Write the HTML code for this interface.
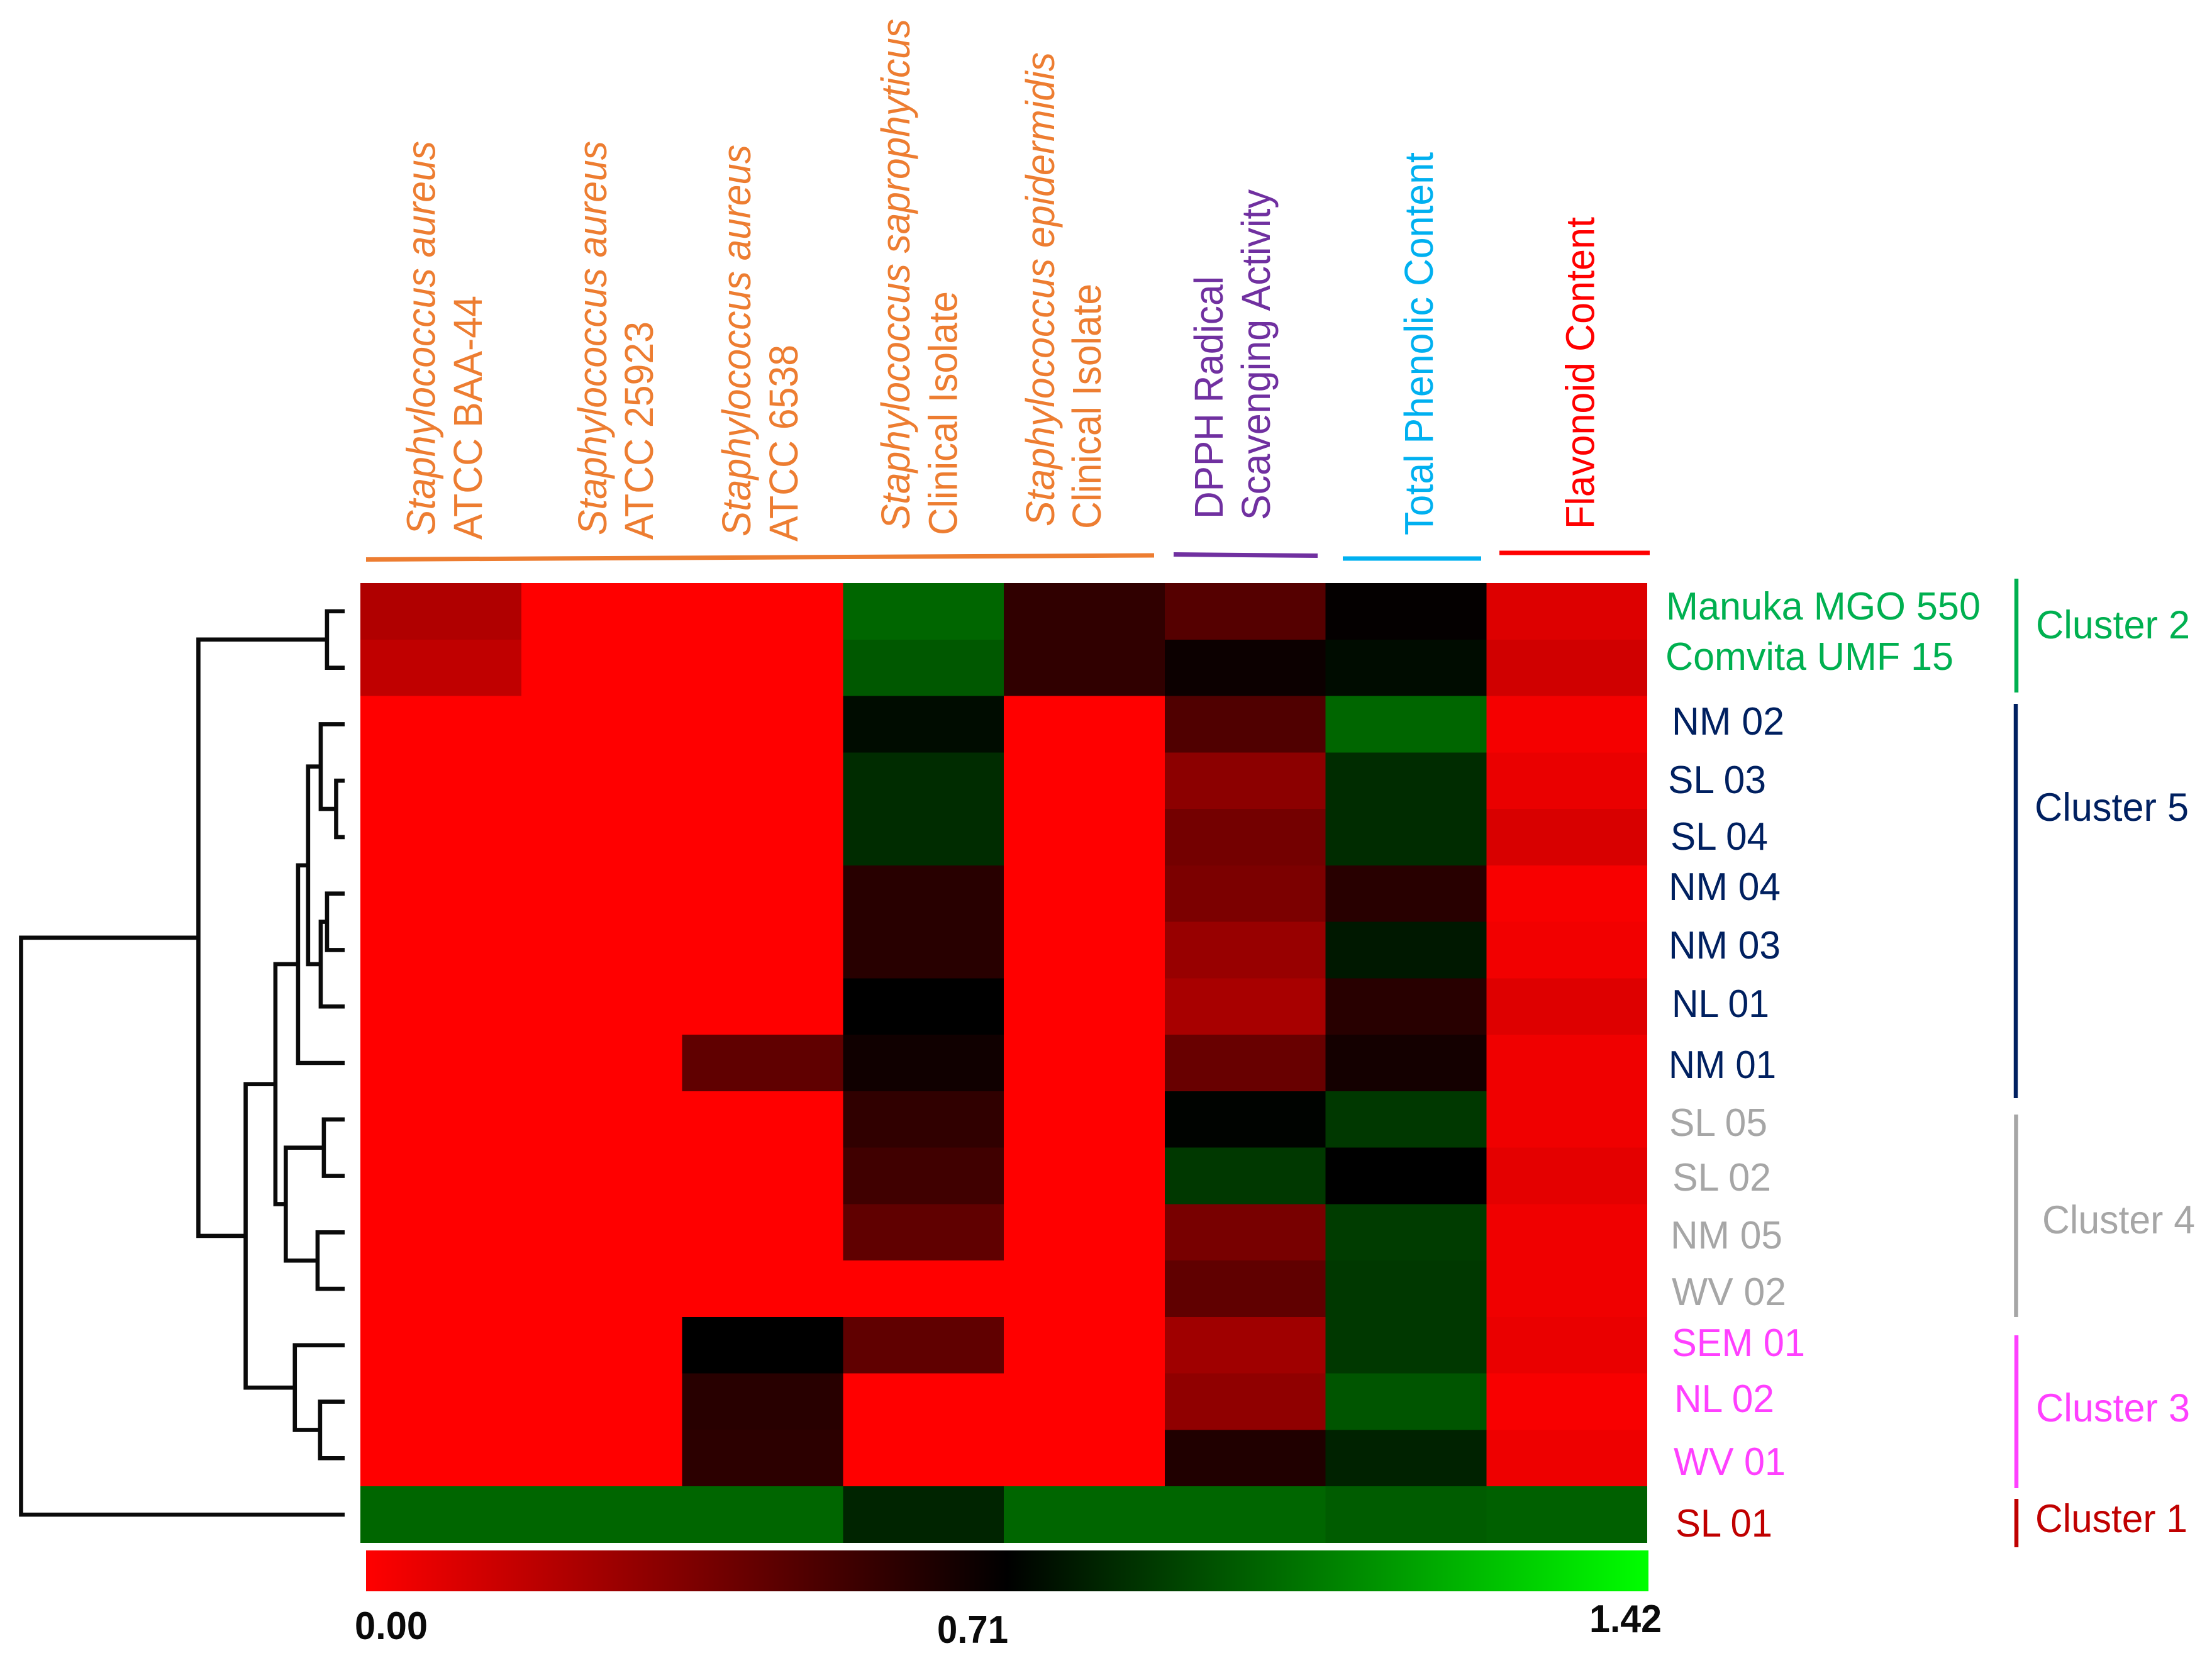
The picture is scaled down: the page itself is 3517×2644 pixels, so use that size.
<!DOCTYPE html>
<html lang="en">
<head>
<meta charset="utf-8">
<title>Honey clustering heatmap</title>
<style>
html,body{margin:0;padding:0;background:#fff;}
svg{display:block;}
text{font-family:"Liberation Sans",sans-serif;}
</style>
</head>
<body>
<svg id="chart" xmlns="http://www.w3.org/2000/svg" width="3517" height="2644" viewBox="0 0 3517 2644">
<rect x="0" y="0" width="3517" height="2644" fill="#fff"/>
<defs><linearGradient id="scaleGradient" x1="0" x2="1" y1="0" y2="0"></linearGradient></defs>
<g id="dendrogram" fill="none" stroke="#0a0a0a" stroke-width="6.6" stroke-linejoin="miter"></g>
<g id="heatmap" shape-rendering="crispEdges"></g>
<rect id="colorbar" x="582" y="2465" width="2039" height="65" fill="url(#scaleGradient)"/>

<g font-weight="bold" fill="#0a0a0a" font-size="62">
<text x="564" y="2606" textLength="116" lengthAdjust="spacingAndGlyphs">0.00</text>
<text x="1490" y="2612" textLength="113" lengthAdjust="spacingAndGlyphs">0.71</text>
<text x="2527" y="2595" textLength="115" lengthAdjust="spacingAndGlyphs">1.42</text>
</g>

<g font-size="64" fill="#ed7d31">
<text transform="translate(691.5,851) rotate(-90)" font-style="italic" textLength="627" lengthAdjust="spacingAndGlyphs">Staphylococcus aureus</text>
<text transform="translate(766,858) rotate(-90)" textLength="388" lengthAdjust="spacingAndGlyphs">ATCC BAA-44</text>
<text transform="translate(964,851) rotate(-90)" font-style="italic" textLength="627" lengthAdjust="spacingAndGlyphs">Staphylococcus aureus</text>
<text transform="translate(1038,858) rotate(-90)" textLength="347" lengthAdjust="spacingAndGlyphs">ATCC 25923</text>
<text transform="translate(1193,853) rotate(-90)" font-style="italic" textLength="623" lengthAdjust="spacingAndGlyphs">Staphylococcus aureus</text>
<text transform="translate(1268,861) rotate(-90)" textLength="313" lengthAdjust="spacingAndGlyphs">ATCC 6538</text>
<text transform="translate(1446,842) rotate(-90)" font-style="italic" textLength="812" lengthAdjust="spacingAndGlyphs">Staphylococcus saprophyticus</text>
<text transform="translate(1521.5,851) rotate(-90)" textLength="388" lengthAdjust="spacingAndGlyphs">Clinical Isolate</text>
<text transform="translate(1676,837) rotate(-90)" font-style="italic" textLength="754" lengthAdjust="spacingAndGlyphs">Staphylococcus epidermidis</text>
<text transform="translate(1750,841) rotate(-90)" textLength="390" lengthAdjust="spacingAndGlyphs">Clinical Isolate</text>
</g>
<g font-size="64" fill="#7030a0">
<text transform="translate(1944,825) rotate(-90)" textLength="386" lengthAdjust="spacingAndGlyphs">DPPH Radical</text>
<text transform="translate(2019,827) rotate(-90)" textLength="526" lengthAdjust="spacingAndGlyphs">Scavenging Activity</text>
</g>
<text transform="translate(2278,851) rotate(-90)" font-size="64" fill="#00b0f0" textLength="609" lengthAdjust="spacingAndGlyphs">Total Phenolic Content</text>
<text transform="translate(2534.5,841) rotate(-90)" font-size="64" fill="#ff0000" textLength="496" lengthAdjust="spacingAndGlyphs">Flavonoid Content</text>

<g stroke-width="7" fill="none">
<line x1="582" y1="889.5" x2="1835" y2="883" stroke="#ed7d31"/>
<line x1="1866" y1="881.5" x2="2095" y2="883.5" stroke="#7030a0"/>
<line x1="2135" y1="888" x2="2355" y2="888" stroke="#00b0f0"/>
<line x1="2384" y1="879" x2="2623" y2="879" stroke="#ff0000"/>
</g>

<g font-size="62">
<g fill="#00b050">
<text x="2649" y="985" textLength="500" lengthAdjust="spacingAndGlyphs">Manuka MGO 550</text>
<text x="2648" y="1065" textLength="458" lengthAdjust="spacingAndGlyphs">Comvita UMF 15</text>
</g>
<g fill="#002060">
<text x="2658" y="1168" textLength="179" lengthAdjust="spacingAndGlyphs">NM 02</text>
<text x="2652" y="1261" textLength="156" lengthAdjust="spacingAndGlyphs">SL 03</text>
<text x="2656" y="1351" textLength="155" lengthAdjust="spacingAndGlyphs">SL 04</text>
<text x="2653" y="1431" textLength="178" lengthAdjust="spacingAndGlyphs">NM 04</text>
<text x="2653" y="1524" textLength="178" lengthAdjust="spacingAndGlyphs">NM 03</text>
<text x="2658" y="1617" textLength="155" lengthAdjust="spacingAndGlyphs">NL 01</text>
<text x="2653" y="1714" textLength="171" lengthAdjust="spacingAndGlyphs">NM 01</text>
</g>
<g fill="#a6a6a6">
<text x="2654" y="1806" textLength="156" lengthAdjust="spacingAndGlyphs">SL 05</text>
<text x="2659" y="1893" textLength="157" lengthAdjust="spacingAndGlyphs">SL 02</text>
<text x="2656" y="1985" textLength="178" lengthAdjust="spacingAndGlyphs">NM 05</text>
<text x="2658" y="2075" textLength="182" lengthAdjust="spacingAndGlyphs">WV 02</text>
</g>
<g fill="#ff40ff">
<text x="2658" y="2156" textLength="212" lengthAdjust="spacingAndGlyphs">SEM 01</text>
<text x="2662" y="2245" textLength="159" lengthAdjust="spacingAndGlyphs">NL 02</text>
<text x="2661" y="2345" textLength="178" lengthAdjust="spacingAndGlyphs">WV 01</text>
</g>
<text x="2664" y="2443" fill="#c00000" textLength="154" lengthAdjust="spacingAndGlyphs">SL 01</text>
</g>

<g stroke-width="6.5" fill="none">
<line x1="3206" y1="920" x2="3206" y2="1101" stroke="#00b050"/>
<line x1="3205" y1="1119" x2="3205" y2="1746" stroke="#002060"/>
<line x1="3205.5" y1="1772" x2="3205.5" y2="2094" stroke="#a6a6a6"/>
<line x1="3206" y1="2123" x2="3206" y2="2366" stroke="#ff40ff"/>
<line x1="3206" y1="2383" x2="3206" y2="2460" stroke="#c00000"/>
</g>
<g font-size="63">
<text x="3237" y="1015" fill="#00b050" textLength="245" lengthAdjust="spacingAndGlyphs">Cluster 2</text>
<text x="3235" y="1305" fill="#002060" textLength="245" lengthAdjust="spacingAndGlyphs">Cluster 5</text>
<text x="3247" y="1961" fill="#a6a6a6" textLength="243" lengthAdjust="spacingAndGlyphs">Cluster 4</text>
<text x="3237" y="2260" fill="#ff40ff" textLength="245" lengthAdjust="spacingAndGlyphs">Cluster 3</text>
<text x="3236" y="2436" fill="#c00000" textLength="242" lengthAdjust="spacingAndGlyphs">Cluster 1</text>
</g>
</svg>
<script>
const rowNames = ["Manuka MGO 550","Comvita UMF 15","NM 02","SL 03","SL 04","NM 04","NM 03","NL 01","NM 01","SL 05","SL 02","NM 05","WV 02","SEM 01","NL 02","WV 01","SL 01"];
const columnNames = ["S. aureus BAA-44","S. aureus 25923","S. aureus 6538","S. saprophyticus","S. epidermidis","DPPH","Total Phenolic","Flavonoid"];
const scaleMin = 0;
const scaleMid = 0.71;
const scaleMax = 1.42;
const heatValues = [
  [0.220,0,0,0.994,0.576,0.473,0.700,0.095],
  [0.175,0,0,0.955,0.576,0.677,0.743,0.131],
  [0,0,0,0.743,0,0.487,0.994,0.028],
  [0,0,0,0.832,0,0.320,0.832,0.058],
  [0,0,0,0.832,0,0.387,0.832,0.109],
  [0,0,0,0.599,0,0.365,0.599,0.019],
  [0,0,0,0.599,0,0.287,0.777,0.036],
  [0,0,0,0.710,0,0.242,0.599,0.092],
  [0,0,0.443,0.665,0,0.420,0.654,0.042],
  [0,0,0,0.576,0,0.718,0.866,0.042],
  [0,0,0,0.532,0,0.866,0.710,0.075],
  [0,0,0,0.443,0,0.376,0.877,0.042],
  [0,0,0,0,0,0.443,0.866,0.042],
  [0,0,0.710,0.443,0,0.265,0.866,0.058],
  [0,0,0.599,0,0,0.309,0.947,0.019],
  [0,0,0.588,0,0,0.621,0.805,0.047],
  [0.994,0.994,0.994,0.810,0.994,0.994,0.966,0.977]
];
/* Each merge: [child A, child B, linkage distance]. Ids 0-16 are rows; ids 17+ refer to earlier merges. */
const mergeChildrenA = [0,3,2,5,20,19,22,9,11,24,23,14,13,27,17,31];
const mergeChildrenB = [1,4,18,6,7,21,8,10,12,25,26,15,28,29,30,16];
const mergeDistances = [0.0546,0.0263,0.074,0.0545,0.074,0.113,0.144,0.0643,0.0837,0.182,0.214,0.076,0.154,0.306,0.452,1];

const NS = "http://www.w3.org/2000/svg";
const plotLeft = 573, plotRight = 2619, plotTop = 927, plotBottom = 2453;
const dendroLeafX = 548, dendroRootX = 33.5;

function colX(c){ return plotLeft + (plotRight - plotLeft) * c / columnNames.length; }
function rowTop(r){ return plotTop + (plotBottom - plotTop) * r / rowNames.length; }
function rowCenter(r){ return rowTop(r + 0.5); }
function distX(d){ return dendroLeafX - d * (dendroLeafX - dendroRootX); }
function colorOf(v){
  if (v <= scaleMid) {
    const t = (v - scaleMin) / (scaleMid - scaleMin);
    return "rgb(" + Math.round(255 * (1 - t)) + ",0,0)";
  }
  const t = (v - scaleMid) / (scaleMax - scaleMid);
  return "rgb(0," + Math.round(255 * Math.min(t, 1)) + ",0)";
}

const heatGroup = document.getElementById("heatmap");
heatValues.forEach(function(row, r){
  row.forEach(function(v, c){
    const cell = document.createElementNS(NS, "rect");
    cell.setAttribute("x", colX(c));
    cell.setAttribute("y", rowTop(r));
    cell.setAttribute("width", colX(c + 1) - colX(c));
    cell.setAttribute("height", rowTop(r + 1) - rowTop(r));
    cell.setAttribute("fill", colorOf(v));
    
    
    heatGroup.appendChild(cell);
  });
});

const dendroGroup = document.getElementById("dendrogram");
const nodes = rowNames.map(function(name, r){ return { x: dendroLeafX, y: rowCenter(r) }; });
mergeDistances.forEach(function(d, i){
  const a = nodes[mergeChildrenA[i]];
  const b = nodes[mergeChildrenB[i]];
  const x = distX(d);
  const link = document.createElementNS(NS, "path");
  link.setAttribute("d", "M" + a.x + " " + a.y + "H" + x + "V" + b.y + "H" + b.x);
  
  
  dendroGroup.appendChild(link);
  nodes.push({ x: x, y: (a.y + b.y) / 2 });
});

const gradient = document.getElementById("scaleGradient");
[scaleMin, scaleMid, scaleMax].forEach(function(v){
  const stop = document.createElementNS(NS, "stop");
  stop.setAttribute("offset", (v - scaleMin) / (scaleMax - scaleMin));
  stop.setAttribute("stop-color", colorOf(v));
  gradient.appendChild(stop);
});
</script>
</body>
</html>
